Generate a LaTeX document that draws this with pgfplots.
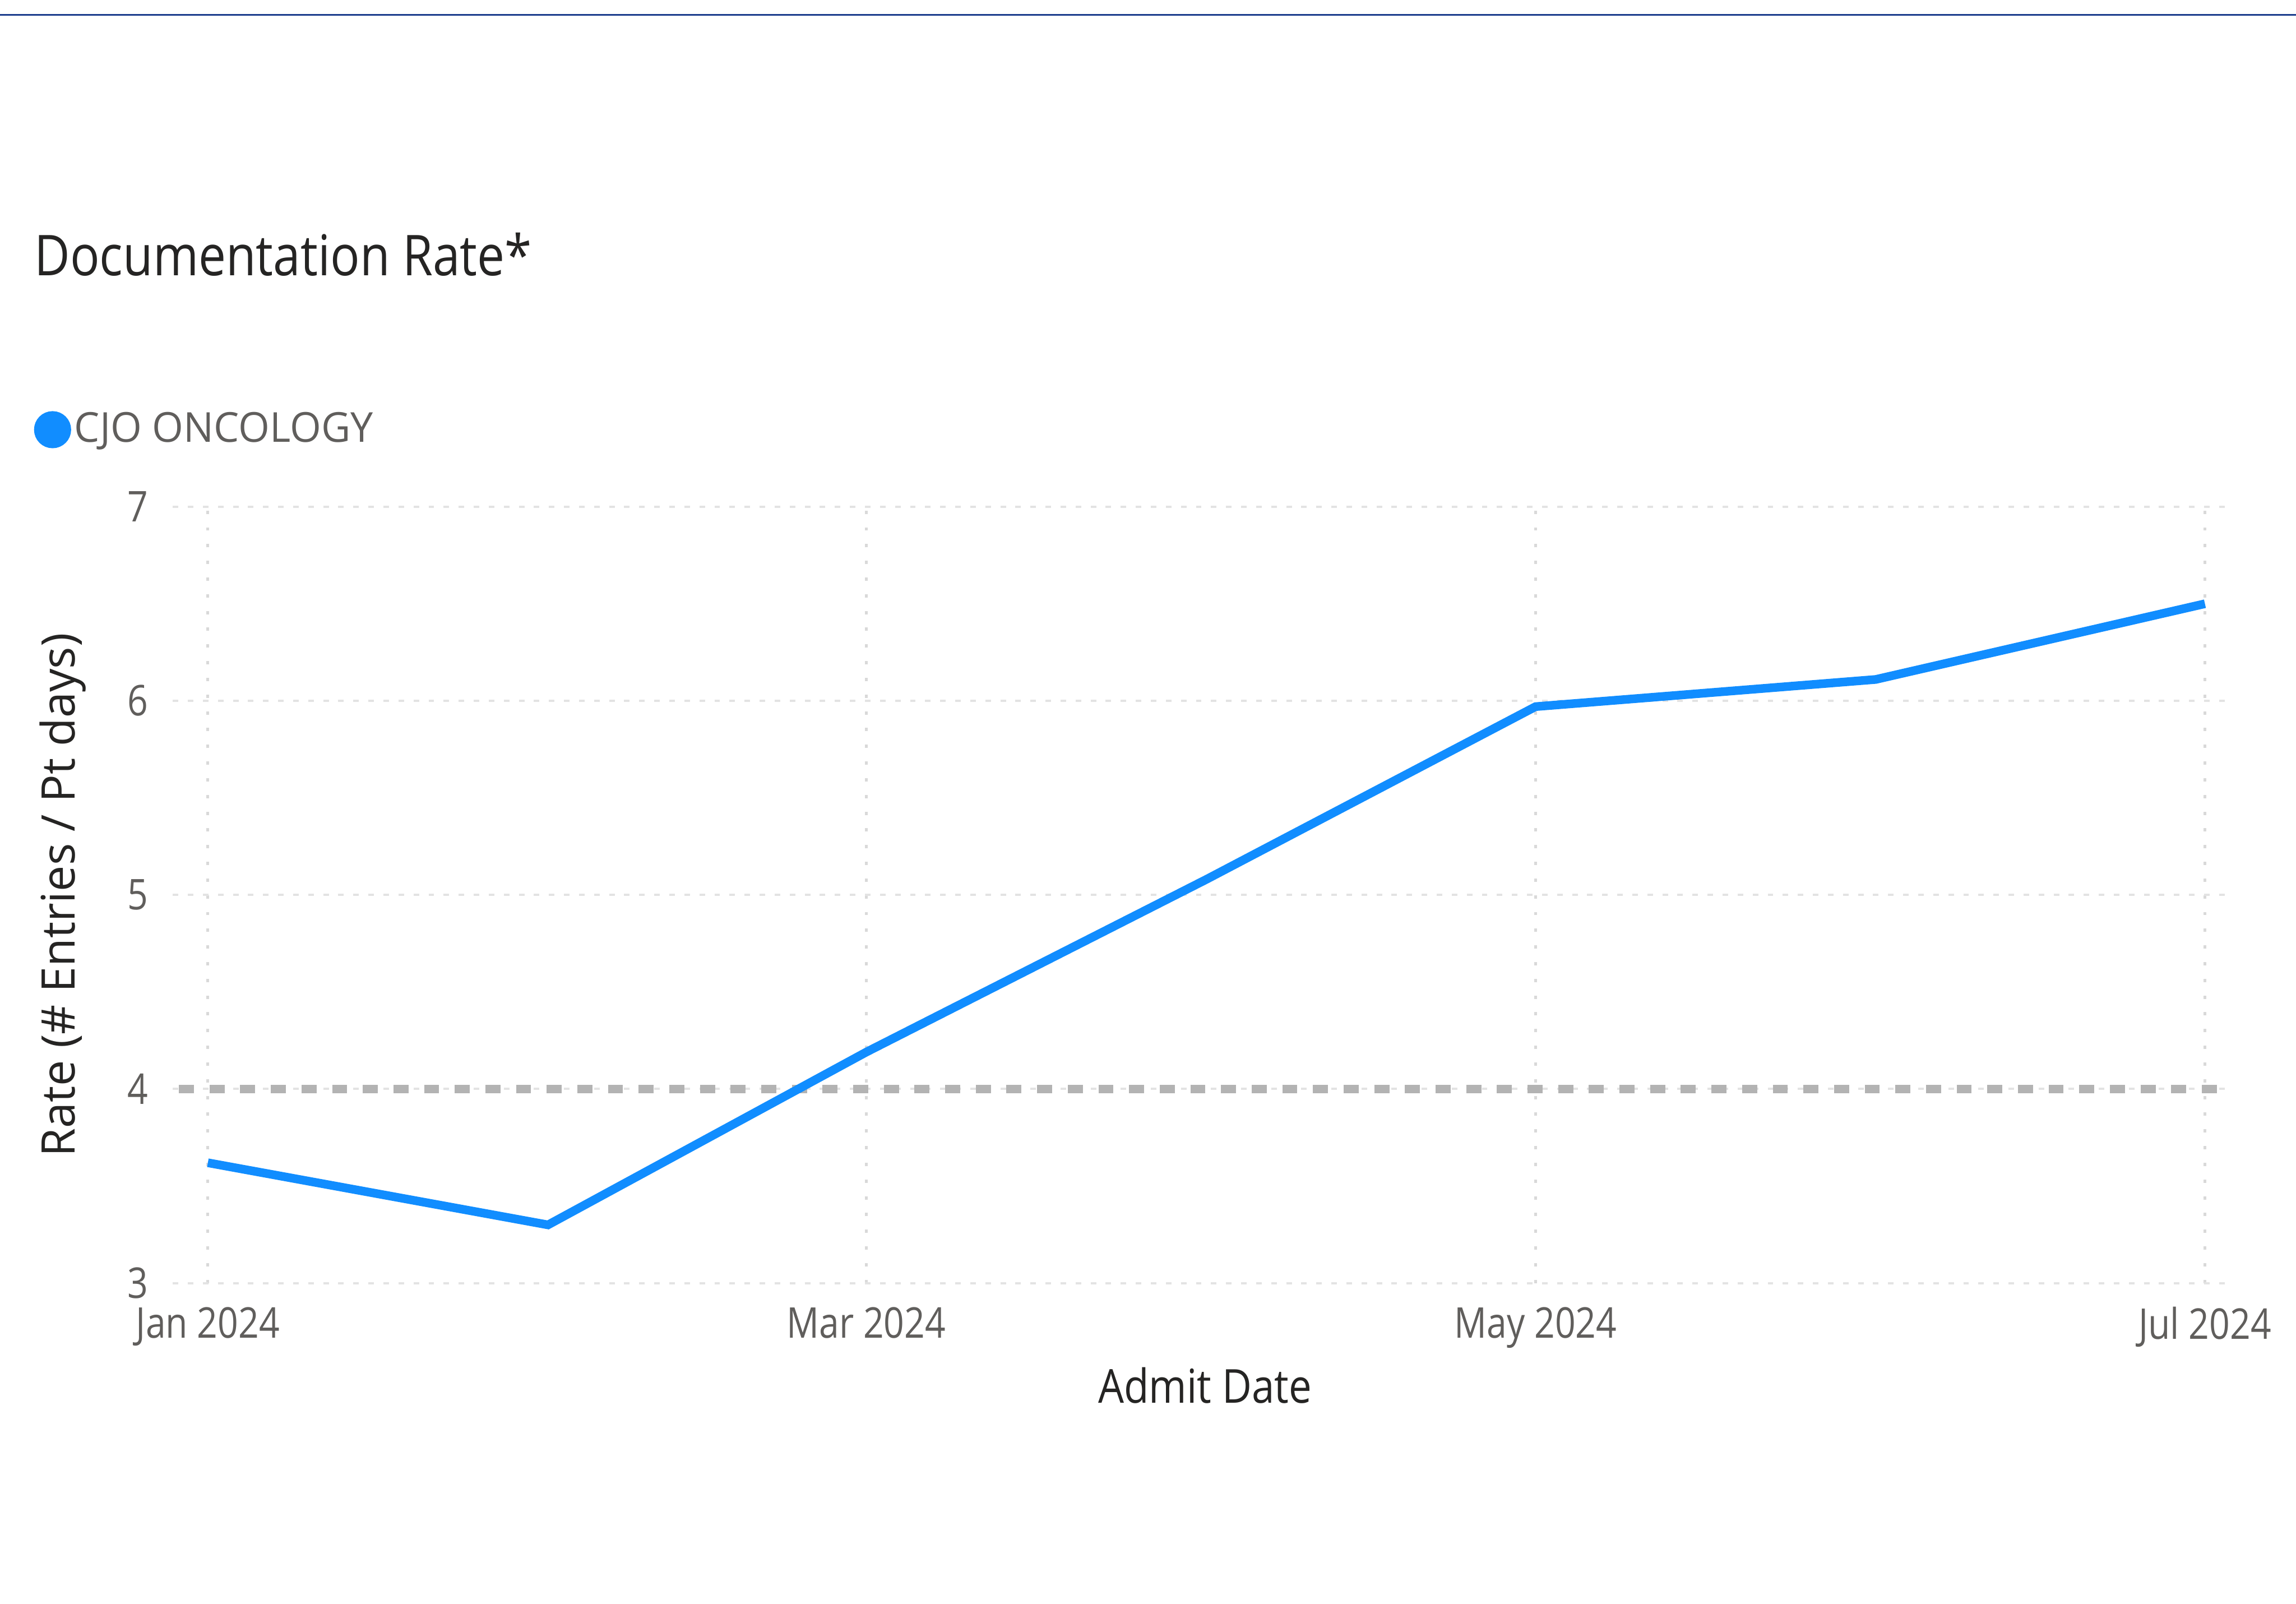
\documentclass[border=0pt]{standalone}
\usepackage{fontspec}
\setmainfont{Open Sans}
\usepackage{pgfplots}
\pgfplotsset{compat=1.18}
\definecolor{pbiblue}{HTML}{118DFF}
\definecolor{titlegray}{HTML}{252423}
\definecolor{labgray}{HTML}{605E5C}
\definecolor{navyline}{HTML}{1B3C8C}
\definecolor{refgray}{HTML}{B3B3B3}
\definecolor{vgrid}{HTML}{D9D9D9}
\definecolor{hgrid}{HTML}{E3E3E3}
\begin{document}
\begin{tikzpicture}
\path[use as bounding box] (0,0) rectangle (412pt,287.7pt);
\draw[navyline, line width=0.3pt] (0,285.0pt) -- (412pt,285.0pt);
\begin{axis}[
  at={(31pt,57.5pt)}, anchor=south west,
  scale only axis, width=368.2pt, height=139.3pt,
  xmin=-3.2, xmax=183.8, ymin=3, ymax=7,
  xtick={0,60,121,182},
  xticklabels={Jan 2024,Mar 2024,May 2024,Jul 2024},
  ytick={3,4,5,6,7},
  axis line style={draw=none},
  major tick length=0pt,
  grid=major,
  x grid style={vgrid, line width=0.5pt, dash pattern=on 0.6pt off 2.4pt},
  y grid style={hgrid, line width=0.4pt, dash pattern=on 1pt off 1.7pt},
  /pgf/number format/assume math mode=true,
  tick label style={font=\fontsize{7.6}{9}\selectfont, text=labgray, inner sep=0pt, xscale=0.85},
  yticklabel style={anchor=east, xshift=-5pt},
  xticklabel style={anchor=north, yshift=-4.1pt},
  title={Documentation Rate*},
  title style={at={(axis description cs:-0.0679,1.2979)}, anchor=base west, yshift=-6pt,
    font=\fontsize{10.1}{12}\selectfont, text=titlegray, inner sep=0pt, xscale=0.87},
  xlabel={Admit Date},
  xlabel style={at={(axis description cs:0.503,-0.1543)}, anchor=base,
    font=\fontsize{8.4}{10}\selectfont, text=titlegray, inner sep=0pt, xscale=0.87},
  ylabel={Rate (\# Entries / Pt days)},
  ylabel style={at={(axis description cs:-0.0477,0.5)}, anchor=base,
    font=\fontsize{8.3}{10}\selectfont, text=titlegray, inner sep=0pt},
  legend style={at={(axis description cs:-0.0676,1.0979)}, anchor=west,
    draw=none, fill=none, inner sep=0pt, outer sep=0pt,
    font=\fontsize{7.4}{9}\selectfont, text=labgray,
    nodes={inner sep=0pt, xscale=0.975},
    /tikz/every odd column/.append style={column sep=0.6pt}},
  legend image code/.code={\fill[pbiblue] (2.7pt,0.25pt) circle (2.55pt);},
]
\addplot[refgray, line width=1.5pt, dash pattern=on 2.7pt off 2.8pt, dash phase=4.4pt, forget plot]
  coordinates {(-3.2,4) (183.8,4)};
\addplot[pbiblue, line width=1.55pt, line join=miter, mark=none]
  coordinates {(0,3.62) (31,3.30) (60,4.19) (91,5.08) (121,5.97) (152,6.11) (182,6.50)};
\addlegendentry{CJO ONCOLOGY}
\end{axis}
\end{tikzpicture}
\end{document}
